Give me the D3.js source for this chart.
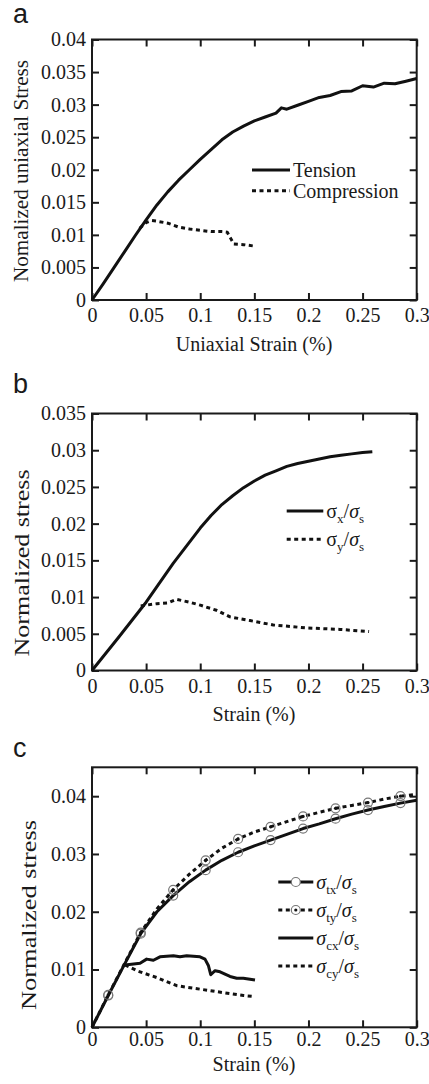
<!DOCTYPE html>
<html>
<head>
<meta charset="utf-8">
<script src="https://cdn.jsdelivr.net/npm/d3@7"></script>
<style>
  body { margin: 0; background: #fff; }
  svg text { font-family: "Liberation Serif", "Times New Roman", serif; fill: #1a1a1a; }
  svg text.letter { font-family: "Liberation Sans", Arial, sans-serif; }
</style>
</head>
<body>
<div id="chart"></div>
<script>
// panel a
const aStrainT = [0, 0.01, 0.02, 0.03, 0.04, 0.05, 0.06, 0.07, 0.08, 0.09, 0.10, 0.11, 0.12, 0.13, 0.14, 0.15, 0.16, 0.17, 0.175, 0.18, 0.19, 0.20, 0.21, 0.22, 0.23, 0.24, 0.25, 0.26, 0.27, 0.28, 0.29, 0.30];
const aTension = [0, 0.0024, 0.0049, 0.0074, 0.0099, 0.0123, 0.0146, 0.0166, 0.0184, 0.0200, 0.0216, 0.0231, 0.0246, 0.0258, 0.0267, 0.0275, 0.0281, 0.0287, 0.0295, 0.0293, 0.0299, 0.0305, 0.0311, 0.0314, 0.0320, 0.0321, 0.0329, 0.0327, 0.0333, 0.0332, 0.0336, 0.0340];
const aStrainC = [0.044, 0.05, 0.055, 0.06, 0.07, 0.08, 0.09, 0.10, 0.11, 0.12, 0.125, 0.128, 0.131, 0.14, 0.149];
const aCompression = [0.0110, 0.0119, 0.0122, 0.0121, 0.0118, 0.0112, 0.0109, 0.0107, 0.0105, 0.0105, 0.0104, 0.0095, 0.0086, 0.0085, 0.0083];

// panel b
const bStrainX = [0, 0.025, 0.05, 0.075, 0.10, 0.11, 0.12, 0.13, 0.14, 0.15, 0.16, 0.17, 0.18, 0.19, 0.20, 0.21, 0.22, 0.23, 0.24, 0.25, 0.259];
const bSigmaX = [0, 0.0046, 0.0093, 0.0146, 0.0194, 0.0211, 0.0226, 0.0238, 0.0249, 0.0258, 0.0266, 0.0272, 0.0278, 0.0282, 0.0285, 0.0288, 0.0291, 0.0293, 0.0295, 0.0297, 0.0298];
const bStrainY = [0.045, 0.06, 0.07, 0.078, 0.09, 0.10, 0.115, 0.1275, 0.146, 0.1675, 0.198, 0.229, 0.256];
const bSigmaY = [0.0088, 0.0091, 0.0092, 0.0097, 0.0093, 0.0089, 0.0082, 0.0073, 0.0068, 0.0062, 0.0058, 0.0056, 0.0053];

// panel c
const cStrainT = [0, 0.015, 0.03, 0.045, 0.06, 0.075, 0.09, 0.105, 0.12, 0.135, 0.15, 0.165, 0.18, 0.195, 0.21, 0.225, 0.24, 0.255, 0.27, 0.285, 0.30];
const cSigmaTX = [0, 0.0055, 0.0109, 0.0162, 0.0200, 0.0228, 0.0252, 0.0272, 0.0289, 0.0303, 0.0314, 0.0324, 0.0334, 0.0344, 0.0352, 0.0361, 0.0369, 0.0376, 0.0382, 0.0388, 0.0393];
const cSigmaTY = [0, 0.0056, 0.0110, 0.0164, 0.0205, 0.0238, 0.0265, 0.0289, 0.0310, 0.0326, 0.0338, 0.0347, 0.0356, 0.0365, 0.0372, 0.0379, 0.0384, 0.0389, 0.0395, 0.0400, 0.0403];
const cStrainCX = [0.0305, 0.0444, 0.0505, 0.0567, 0.0628, 0.0752, 0.0813, 0.0875, 0.0998, 0.1044, 0.1075, 0.1097, 0.1137, 0.1183, 0.1275, 0.1337, 0.1398, 0.1506];
const cSigmaCX = [0.0108, 0.0111, 0.0118, 0.0116, 0.0122, 0.0124, 0.0122, 0.0124, 0.0122, 0.0118, 0.0107, 0.0091, 0.0098, 0.0096, 0.0088, 0.0085, 0.0085, 0.0082];
const cStrainCY = [0.0305, 0.0428, 0.06, 0.0783, 0.0998, 0.1213, 0.14, 0.1506];
const cSigmaCY = [0.0108, 0.0097, 0.0086, 0.0072, 0.0066, 0.0060, 0.0055, 0.0053];

const xTicks = [0, 0.05, 0.1, 0.15, 0.2, 0.25, 0.3];
const aYTicks = [0, 0.005, 0.01, 0.015, 0.02, 0.025, 0.03, 0.035, 0.04];
const bYTicks = [0, 0.005, 0.01, 0.015, 0.02, 0.025, 0.03, 0.035];
const cYTicks = [0, 0.01, 0.02, 0.03, 0.04];

const width = 429, height = 1084;
const svg = d3.select("#chart").append("svg")
  .attr("width", width).attr("height", height);

const fmt = d => String(+d.toFixed(4));
const zip = (xs, ys) => xs.map((x, i) => [x, ys[i]]);
const DOT = "4,3.5";

function drawPanel(p) {
  const x = d3.scaleLinear().domain([0, 0.3]).range([92, 416.7]);
  const y = d3.scaleLinear().domain(p.yDomain).range([p.bottom, p.top]);
  const g = svg.append("g");

  // ticks on all four sides, pointing inward
  const bottom = g.append("g").attr("transform", `translate(0,${p.bottom})`)
    .call(d3.axisBottom(x).tickValues(xTicks).tickFormat(fmt).tickSizeInner(-7).tickSizeOuter(0).tickPadding(p.xPad));
  const left = g.append("g").attr("transform", "translate(92,0)")
    .call(d3.axisLeft(y).tickValues(p.yTicks).tickFormat(fmt).tickSizeInner(-7).tickSizeOuter(0).tickPadding(6));
  const top = g.append("g").attr("transform", `translate(0,${p.top})`)
    .call(d3.axisTop(x).tickValues(xTicks).tickFormat("").tickSizeInner(-7).tickSizeOuter(0));
  const right = g.append("g").attr("transform", "translate(416.7,0)")
    .call(d3.axisRight(y).tickValues(p.yTicks).tickFormat("").tickSizeInner(-7).tickSizeOuter(0));
  [bottom, left, top, right].forEach(a => {
    a.attr("font-family", null);
    a.select(".domain").remove();
    a.selectAll("line").attr("stroke", "#1a1a1a").attr("stroke-width", 2);
    a.selectAll("text").attr("font-size", 20).attr("fill", "#1a1a1a");
  });

  g.append("rect").attr("x", 92).attr("y", p.top)
    .attr("width", 416.7 - 92).attr("height", p.bottom - p.top)
    .attr("fill", "none").attr("stroke", "#1a1a1a").attr("stroke-width", 2);

  const line = d3.line().x(d => x(d[0])).y(d => y(d[1]));
  p.series.forEach(s => {
    g.append("path").datum(zip(s.xs, s.ys)).attr("d", line)
      .attr("fill", "none").attr("stroke", "#111").attr("stroke-width", 3)
      .attr("stroke-linejoin", "round")
      .attr("stroke-dasharray", s.dotted ? DOT : null);
    if (s.marker) {
      const pts = zip(s.xs, s.ys).filter((d, i) => i % 2 === 1);
      g.selectAll(null).data(pts).join("circle")
        .attr("cx", d => x(d[0])).attr("cy", d => y(d[1])).attr("r", 4.5)
        .attr("fill", "none").attr("stroke", "#777").attr("stroke-width", 1.2);
      if (s.marker === "dot") {
        g.selectAll(null).data(pts).join("circle")
          .attr("cx", d => x(d[0])).attr("cy", d => y(d[1])).attr("r", 1.6).attr("fill", "#111");
      }
    }
  });

  // legend
  p.legend.forEach(l => {
    g.append("line").attr("x1", p.legX[0]).attr("x2", p.legX[1]).attr("y1", l.y).attr("y2", l.y)
      .attr("stroke", "#111").attr("stroke-width", 3)
      .attr("stroke-dasharray", l.dotted ? DOT : null);
    if (l.marker) {
      const mx = (p.legX[0] + p.legX[1]) / 2;
      g.append("circle").attr("cx", mx).attr("cy", l.y).attr("r", 4.5)
        .attr("fill", "#fff").attr("stroke", "#777").attr("stroke-width", 1.2);
      if (l.marker === "dot") g.append("circle").attr("cx", mx).attr("cy", l.y).attr("r", 1.6).attr("fill", "#111");
    }
    const t = g.append("text").attr("x", p.legX[1] + 3).attr("y", l.y + 7).attr("font-size", 20);
    l.parts.forEach(part => {
      const ts = t.append("tspan").text(part.t);
      if (part.i) ts.attr("font-style", "italic");
      if (part.sub) ts.attr("font-size", 13).attr("dy", 5);
      if (part.up) ts.attr("dy", -5);
    });
  });

  // axis titles
  g.append("text").attr("x", 254).attr("y", p.xTitleY).attr("text-anchor", "middle")
    .attr("font-size", 20).text(p.xTitle);
  g.append("text").attr("transform", `translate(${p.yTitleX},${p.yTitleC}) rotate(-90)`)
    .attr("text-anchor", "middle").attr("font-size", p.yTitleSize)
    .attr("textLength", p.yTitleLen).attr("lengthAdjust", "spacingAndGlyphs").text(p.yTitle);
  g.append("text").attr("class", "letter").attr("x", 13).attr("y", p.letterY)
    .attr("font-size", 27).text(p.letter);
}

const sub = (name) => [{ t: "σ" }, { t: name, sub: true }, { t: "/", up: true }, { t: "σ", i: true }, { t: "s", sub: true }];
const subI = (name) => [{ t: "σ", i: true }, { t: name, sub: true }, { t: "/", up: true }, { t: "σ", i: true }, { t: "s", sub: true }];

drawPanel({
  letter: "a", letterY: 23, top: 39.5, bottom: 300, yDomain: [0, 0.04], yTicks: aYTicks, xPad: 7.5,
  xTitle: "Uniaxial Strain (%)", xTitleY: 351,
  yTitle: "Nomalized uniaxial Stress", yTitleX: 28, yTitleC: 171, yTitleSize: 20, yTitleLen: 222,
  series: [
    { xs: aStrainT, ys: aTension },
    { xs: aStrainC, ys: aCompression, dotted: true }
  ],
  legX: [252, 290],
  legend: [
    { y: 170, parts: [{ t: "Tension" }] },
    { y: 190.7, dotted: true, parts: [{ t: "Compression" }] }
  ]
});

drawPanel({
  letter: "b", letterY: 393, top: 413.5, bottom: 670.5, yDomain: [0, 0.035], yTicks: bYTicks, xPad: 8.5,
  xTitle: "Strain (%)", xTitleY: 721,
  yTitle: "Normalized stress", yTitleX: 29, yTitleC: 563, yTitleSize: 22, yTitleLen: 187,
  series: [
    { xs: bStrainX, ys: bSigmaX },
    { xs: bStrainY, ys: bSigmaY, dotted: true }
  ],
  legX: [286.7, 323.3],
  legend: [
    { y: 511, parts: sub("x") },
    { y: 539.3, dotted: true, parts: sub("y") }
  ]
});

drawPanel({
  letter: "c", letterY: 757, top: 767.3, bottom: 1027.3, yDomain: [0, 0.045], yTicks: cYTicks, xPad: 5,
  xTitle: "Strain (%)", xTitleY: 1071,
  yTitle: "Normalized stress", yTitleX: 36, yTitleC: 915, yTitleSize: 22, yTitleLen: 190,
  series: [
    { xs: cStrainT, ys: cSigmaTX, marker: "open" },
    { xs: cStrainT, ys: cSigmaTY, dotted: true, marker: "dot" },
    { xs: cStrainCX, ys: cSigmaCX },
    { xs: cStrainCY, ys: cSigmaCY, dotted: true }
  ],
  legX: [278.3, 313.3],
  legend: [
    { y: 882, marker: "open", parts: subI("tx") },
    { y: 910, dotted: true, marker: "dot", parts: subI("ty") },
    { y: 938, parts: subI("cx") },
    { y: 966, dotted: true, parts: subI("cy") }
  ]
});
</script>
</body>
</html>
